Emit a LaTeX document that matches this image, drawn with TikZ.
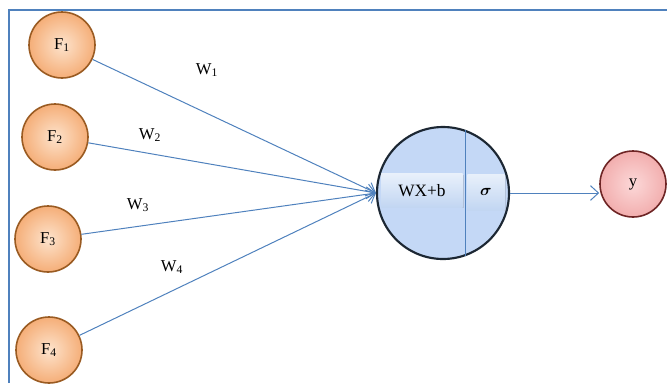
\documentclass[tikz,border=0pt]{standalone}
\usepackage{bm}
\usepackage{fontspec}
\setmainfont{Liberation Serif}
\usetikzlibrary{arrows.meta,shadows}

\definecolor{lineblue}{HTML}{4F81BD}
\definecolor{featedge}{HTML}{9A5B22}
\definecolor{featin}{HTML}{FDE3CC}
\definecolor{featout}{HTML}{F5AE78}
\definecolor{cellfill}{HTML}{C4D8F6}
\definecolor{celledge}{HTML}{1C2733}
\definecolor{outin}{HTML}{FCD8D8}
\definecolor{outout}{HTML}{F2AEAE}
\definecolor{outedge}{HTML}{6E2525}
\definecolor{boxin}{HTML}{E8F0FB}
\definecolor{boxout}{HTML}{C2D6F2}

\tikzset{
  feat/.style={circle,draw=featedge,line width=1.2pt,minimum size=49.5pt,inner sep=0pt,
    inner color=featin,outer color=featout,font=\fontsize{12.5}{14}\selectfont},
  cell/.style={circle,draw=celledge,line width=1.6pt,minimum size=99pt,inner sep=0pt,fill=cellfill},
  outp/.style={circle,draw=outedge,line width=1.2pt,minimum size=49.5pt,inner sep=0pt,
    inner color=outin,outer color=outout,font=\fontsize{12.5}{14}\selectfont},
  part/.style={rectangle,top color=boxin,bottom color=boxout,inner sep=0pt,
    font=\fontsize{13}{15}\selectfont,
    drop shadow={shadow xshift=0.8pt,shadow yshift=-0.8pt,opacity=0.25}},
  wlabel/.style={inner sep=0.75pt,font=\fontsize{12.5}{14}\selectfont},
  link/.style={draw=lineblue,line width=0.75pt,-{Straight Barb[length=6pt,width=11pt]}}
}

\begin{document}
\begin{tikzpicture}[x=0.75pt,y=0.75pt,yscale=-1,xscale=1]
\useasboundingbox (0,0) rectangle (667,383);

%Frame
\draw[lineblue,line width=1.1pt] (9,383) -- (9,10) -- (667,10);

%Feature nodes
\node[feat] (f1) at (62,45) {F\textsubscript{1}};
\node[feat] (f2) at (55,137) {F\textsubscript{2}};
\node[feat] (f3) at (48,239) {F\textsubscript{3}};
\node[feat] (f4) at (49,350) {F\textsubscript{4}};

%Neuron
\node[cell] (neuron) at (443,193) {};
\draw[lineblue,line width=0.7pt] (neuron.70) -- (neuron.-70);
\node[part,minimum width=61pt,minimum height=25pt] (sum) at (422,190.5) {WX+b};
\node[part,minimum width=28pt,minimum height=27pt] (act) at (486,192) {$\bm{\sigma}$};

%Output
\node[outp] (y) at (633,184) {y};

%Weights
\node[wlabel] (w1) at (207,70) {W\textsubscript{1}};
\node[wlabel] (w2) at (150,135) {W\textsubscript{2}};
\node[wlabel] (w3) at (138,205) {W\textsubscript{3}};
\node[wlabel] (w4) at (172,267) {W\textsubscript{4}};

%Connections
\draw[link] (f1) -- (neuron.west);
\draw[link] (f2) -- (neuron.west);
\draw[link] (f3) -- (neuron.west);
\draw[link] (f4) -- (neuron.west);
\draw[link] (neuron.east) -- (y.west |- neuron.east);

\end{tikzpicture}
\end{document}
